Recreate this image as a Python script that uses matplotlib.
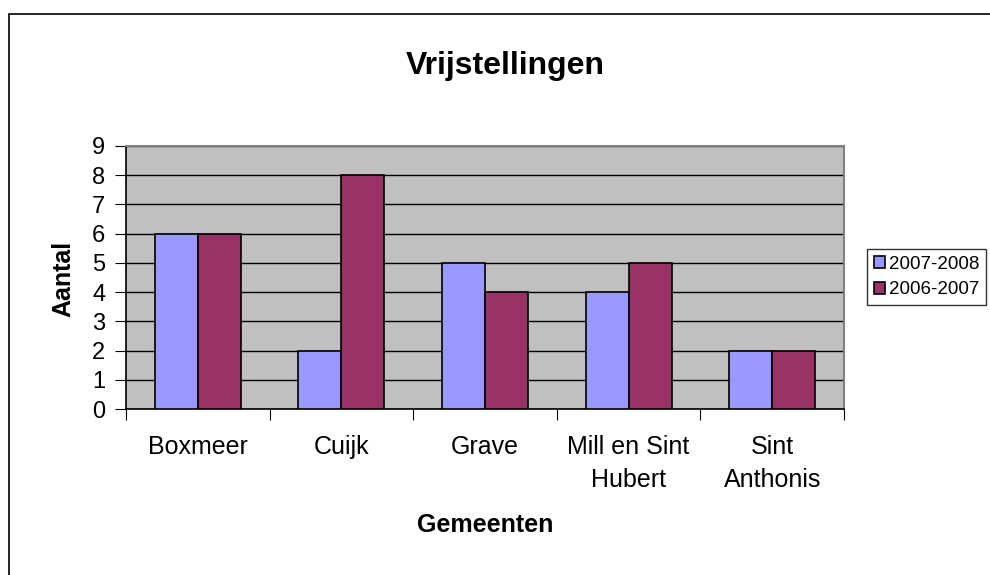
import numpy as np
import matplotlib.pyplot as plt
from matplotlib.patches import Rectangle

plt.rcParams['font.family'] = ['Liberation Sans', 'DejaVu Sans']

# Data
gemeenten = ['Boxmeer', 'Cuijk', 'Grave', 'Mill en Sint\nHubert', 'Sint\nAnthonis']
jaar_2007_2008 = [6, 2, 5, 4, 2]
jaar_2006_2007 = [6, 8, 4, 5, 2]
reeksen = ['2007-2008', '2006-2007']

fig = plt.figure(figsize=(9.9, 5.75), dpi=100)
W, H = 990, 575
ax = fig.add_axes([126 / W, 1 - 409 / H, (844 - 126) / W, (409 - 146) / H])

# outer chart border (only left and top visible)
fig.patches.append(Rectangle((9 / W, -0.1), 1.2, 1 - 14 / H + 0.1,
                             transform=fig.transFigure, fill=False,
                             edgecolor='black', linewidth=1.2))

x = np.arange(len(gemeenten))
w = 0.3
ax.set_facecolor('#C0C0C0')
ax.bar(x - w / 2, jaar_2007_2008, w, color='#9999FF', edgecolor='black',
       linewidth=1.2, label=reeksen[0], zorder=3)
ax.bar(x + w / 2, jaar_2006_2007, w, color='#993366', edgecolor='black',
       linewidth=1.2, label=reeksen[1], zorder=3)

ax.set_xlim(-0.5, len(gemeenten) - 0.5)
ax.set_ylim(0, 9)
ax.set_yticks(range(10))
ax.yaxis.grid(True, color='black', linewidth=1)
ax.set_axisbelow(True)
ax.tick_params(axis='y', labelsize=17, length=8, direction='out', pad=7)

ax.set_xticks(np.arange(len(gemeenten) + 1) - 0.5)
ax.set_xticklabels([])
ax.set_xticks(x, minor=True)
ax.set_xticklabels(gemeenten, minor=True, fontsize=18, linespacing=1.45)
ax.tick_params(axis='x', which='major', length=8, direction='out')
ax.tick_params(axis='x', which='minor', length=0, pad=19)

for s in ['top', 'right']:
    ax.spines[s].set_color('#808080')
    ax.spines[s].set_linewidth(1.5)
for s in ['left', 'bottom']:
    ax.spines[s].set_color('black')
    ax.spines[s].set_linewidth(1.2)

fig.text(63 / W, 1 - 279 / H, 'Aantal', fontsize=18, fontweight='bold',
         rotation=90, ha='center', va='center')
fig.text(485 / W, 1 - 525 / H, 'Gemeenten', fontsize=18, fontweight='bold',
         ha='center', va='center')
fig.text(505 / W, 1 - 66 / H, 'Vrijstellingen', fontsize=23, fontweight='bold',
         ha='center', va='center')

leg = ax.legend(loc='center left', bbox_to_anchor=(867 / W, 1 - 277 / H),
                bbox_transform=fig.transFigure, fontsize=13.5, frameon=True,
                fancybox=False, edgecolor='black', handlelength=0.6,
                handleheight=0.6, handletextpad=0.25, borderpad=0.35,
                labelspacing=0.45, borderaxespad=0)
leg.get_frame().set_linewidth(1)

fig.savefig('out.png', dpi=100)
